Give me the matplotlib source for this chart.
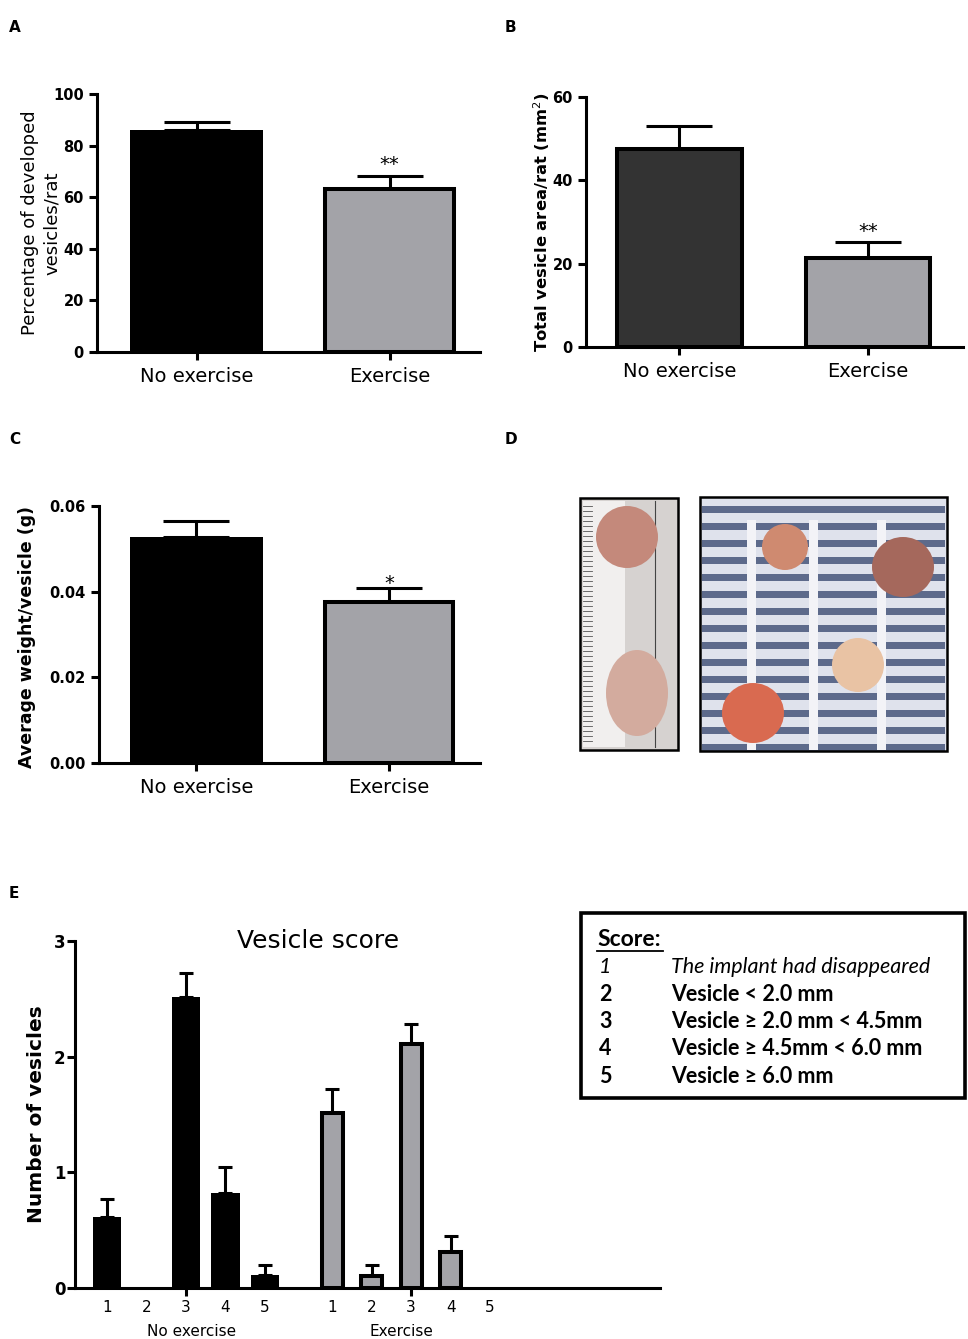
import numpy as np
import matplotlib
matplotlib.use("Agg")
import matplotlib.pyplot as plt
from matplotlib.patches import Rectangle, Ellipse
from matplotlib.lines import Line2D

W, H = 968, 1339

groups = ["No exercise", "Exercise"]
pct_developed = [86.0, 63.0]
pct_developed_err = [3.3, 5.3]
vesicle_area = [47.6, 21.4]
vesicle_area_err = [5.4, 3.8]
vesicle_weight = [0.0528, 0.0375]
vesicle_weight_err = [0.0038, 0.0034]

scores = ["1", "2", "3", "4", "5"]
score_no_ex = [0.61, 0.0, 2.52, 0.82, 0.11]
score_no_ex_err = [0.16, 0.0, 0.20, 0.23, 0.09]
score_ex = [1.51, 0.10, 2.11, 0.31, 0.0]
score_ex_err = [0.21, 0.10, 0.17, 0.14, 0.0]

score_desc = ["The implant had disappeared",
              "Vesicle < 2.0 mm",
              "Vesicle \u2265 2.0 mm < 4.5mm",
              "Vesicle \u2265 4.5mm < 6.0 mm",
              "Vesicle \u2265 6.0 mm"]

GREY = "#a3a3a8"
LW = 2.2

plt.rcParams["font.family"] = ["DejaVu Sans"]


def px_rect(x0, y0, x1, y1):
    return [x0 / W, 1 - y1 / H, (x1 - x0) / W, (y1 - y0) / H]


def style_axes(ax):
    for s in ("top", "right"):
        ax.spines[s].set_visible(False)
    for s in ("left", "bottom"):
        ax.spines[s].set_linewidth(LW)
    ax.tick_params(width=LW, length=6, direction="out")


def bar_panel(ax, values, errs, fills, edge_lw, widths, ylim, yticks, fmt,
              xlim, cap, star, star_dy=1):
    x = np.arange(len(values))
    ax.bar(x, values, widths, color=fills, edgecolor="black",
           linewidth=edge_lw, zorder=2)
    ax.errorbar(x, values, yerr=[np.zeros(len(errs)), errs], fmt="none",
                ecolor="black", elinewidth=LW, capsize=cap, capthick=LW,
                zorder=1)
    ax.annotate(star, (x[-1], values[-1] + errs[-1]), xytext=(0, star_dy),
                textcoords="offset points", ha="center", va="bottom",
                fontsize=14, zorder=5)
    ax.set_ylim(*ylim)
    ax.set_xlim(*xlim)
    ax.set_yticks(yticks)
    ax.set_yticklabels([fmt.format(v) for v in yticks],
                       fontweight="bold", fontsize=10.5)
    ax.set_xticks(x)
    ax.set_xticklabels(groups, fontsize=14)
    style_axes(ax)
    ax.tick_params(axis="x", pad=5)


fig = plt.figure(figsize=(W / 100, H / 100), dpi=100)

# panel letters
for letter, (lx, ly) in zip("ABCDE", [(9, 27), (505, 27), (9, 440),
                                      (505, 440), (9, 893)]):
    fig.text(lx / W, 1 - ly / H, letter, fontweight="bold", fontsize=11,
             ha="left", va="center")

# A
ax_a = fig.add_axes(px_rect(97, 94, 480, 352))
bar_panel(ax_a, pct_developed, pct_developed_err, ["black", GREY],
          [0, 2.9], [0.69, 0.668], (0, 100), [0, 20, 40, 60, 80, 100],
          "{:.0f}", (-0.516, 1.469), 24, "**")
ax_a.set_ylabel("Percentage of developed\nvesicles/rat", fontsize=13,
                linespacing=1.25)
ax_a.yaxis.set_label_coords(-0.095, 0.5)

# B
ax_b = fig.add_axes(px_rect(586, 97, 963, 347))
bar_panel(ax_b, vesicle_area, vesicle_area_err, ["#333333", GREY],
          [2.9, 2.9], [0.663, 0.663], (0, 60), [0, 20, 40, 60],
          "{:.0f}", (-0.496, 1.504), 24, "**")
ax_b.set_ylabel("Total vesicle area/rat (mm$^2$)", fontsize=11.8,
                fontweight="bold")
ax_b.yaxis.set_label_coords(-0.09, 0.5)

# C
ax_c = fig.add_axes(px_rect(99, 506, 480, 763))
bar_panel(ax_c, vesicle_weight, vesicle_weight_err, ["black", GREY],
          [0, 2.9], [0.69, 0.668], (0, 0.06), [0, 0.02, 0.04, 0.06],
          "{:.2f}", (-0.506, 1.473), 24, "*", star_dy=-4)
ax_c.set_ylabel("Average weight/vesicle (g)", fontsize=12.5,
                fontweight="bold")
ax_c.yaxis.set_label_coords(-0.165, 0.49)

# D (photographs, drawn as simple sketches)
ax_d = fig.add_axes(px_rect(570, 490, 968, 760))
ax_d.set_xlim(570, 968)
ax_d.set_ylim(760, 490)
ax_d.axis("off")
ax_d.add_patch(Rectangle((580, 498), 98, 252, fc="#d6d2d0", ec="none",
                         zorder=1))
ax_d.add_patch(Rectangle((583, 501), 42, 246, fc="#f1efee", ec="none",
                         zorder=2))
for ty in range(506, 746, 5):
    ax_d.add_line(Line2D([583, 592 if ty % 25 else 600], [ty, ty],
                         color="#555555", lw=0.6, zorder=3))
ax_d.add_line(Line2D([655, 655], [501, 747], color="#444444", lw=0.8,
                     zorder=3))
ax_d.add_patch(Ellipse((627, 537), 62, 62, fc="#c4897b", ec="none", zorder=4))
ax_d.add_patch(Ellipse((637, 693), 62, 86, fc="#d3ab9e", ec="none", zorder=4))
ax_d.add_patch(Rectangle((580, 498), 98, 252, fc="none", ec="black", lw=1.8,
                         zorder=6))

ax_d.add_patch(Rectangle((700, 497), 247, 254, fc="#dfe2ec", ec="none",
                         zorder=1))
for sy in range(506, 748, 17):
    ax_d.add_patch(Rectangle((702, sy), 243, 7, fc="#46557a", ec="none",
                             alpha=0.85, zorder=2))
for vx in (747, 809, 877):
    ax_d.add_patch(Rectangle((vx, 520), 9, 230, fc="#f3f3f7", ec="none",
                             zorder=3))
for (cx, cy, ew, eh, col) in [(785, 547, 46, 46, "#cf8a70"),
                              (903, 567, 62, 60, "#a5685c"),
                              (858, 665, 52, 54, "#e9c3a4"),
                              (753, 713, 62, 60, "#d96a50")]:
    ax_d.add_patch(Ellipse((cx, cy), ew, eh, fc=col, ec="none", zorder=4))
ax_d.add_patch(Rectangle((700, 497), 247, 254, fc="none", ec="black", lw=1.8,
                         zorder=6))

# E
ax_e = fig.add_axes(px_rect(75, 941, 660, 1288))
pos_no = np.arange(len(scores))
pos_ex = pos_no + 5.7
ax_e.bar(pos_no, score_no_ex, 0.73, color="black", zorder=2)
ax_e.bar(pos_ex, score_ex, 0.53, color=GREY, edgecolor="black",
         linewidth=[2.9 if v > 0 else 0 for v in score_ex], zorder=2)
for pos, vals, errs in [(pos_no, score_no_ex, score_no_ex_err),
                        (pos_ex, score_ex, score_ex_err)]:
    keep = np.array(errs) > 0
    ax_e.errorbar(pos[keep], np.array(vals)[keep],
                  yerr=[np.zeros(keep.sum()), np.array(errs)[keep]],
                  fmt="none", ecolor="black", elinewidth=LW, capsize=5,
                  capthick=LW, zorder=1)
ax_e.set_xlim(-0.81, 14.0)
ax_e.set_ylim(0, 3)
ax_e.set_yticks([0, 1, 2, 3])
ax_e.set_yticklabels(["0", "1", "2", "3"], fontsize=12, fontweight="bold")
ax_e.set_xticks([pos_no[2], pos_ex[2]])
ax_e.set_xticklabels([])
style_axes(ax_e)
ax_e.tick_params(axis="y", pad=1)
tr = ax_e.get_xaxis_transform()
for pos in (pos_no, pos_ex):
    for p, s in zip(pos, scores):
        ax_e.text(p, -0.055, s, transform=tr, ha="center", va="center",
                  fontsize=11)
ax_e.text(pos_no[2] + 0.15, -0.125, groups[0], transform=tr, ha="center",
          va="center", fontsize=11)
ax_e.text(pos_ex[2] - 0.25, -0.125, groups[1], transform=tr, ha="center",
          va="center", fontsize=11)
ax_e.set_ylabel("Number of vesicles", fontsize=14.5, fontweight="bold")
ax_e.yaxis.set_label_coords(-0.05, 0.5)
ax_e.text(0.415, 1.0, "Vesicle score", transform=ax_e.transAxes,
          ha="center", va="center", fontsize=18)

# score key box
key_font = ["Lato", "DejaVu Sans"]
fig.patches.append(Rectangle((581 / W, 1 - 1098 / H), 384 / W, 185 / H,
                             transform=fig.transFigure, fc="white",
                             ec="black", lw=2.6))
fig.text(597 / W, 1 - 939 / H, "Score:", family=key_font, fontsize=16.5,
         fontweight="bold", ha="left", va="center")
fig.lines.append(Line2D([597 / W, 663 / W], [1 - 951 / H, 1 - 951 / H],
                        transform=fig.transFigure, color="black", lw=1.3))
for i, (k, d) in enumerate(zip(scores, score_desc)):
    y = 1 - (967 + i * 27.3) / H
    style = "italic" if i == 0 else "normal"
    weight = "normal" if i == 0 else "bold"
    fig.text(599 / W, y, k, family=key_font, fontsize=15.5, fontstyle=style,
             fontweight=weight, ha="left", va="center")
    fig.text(671 / W, y, d, family=key_font, fontsize=15.5, fontstyle=style,
             fontweight=weight, ha="left", va="center")

fig.savefig("out.png", dpi=100)
